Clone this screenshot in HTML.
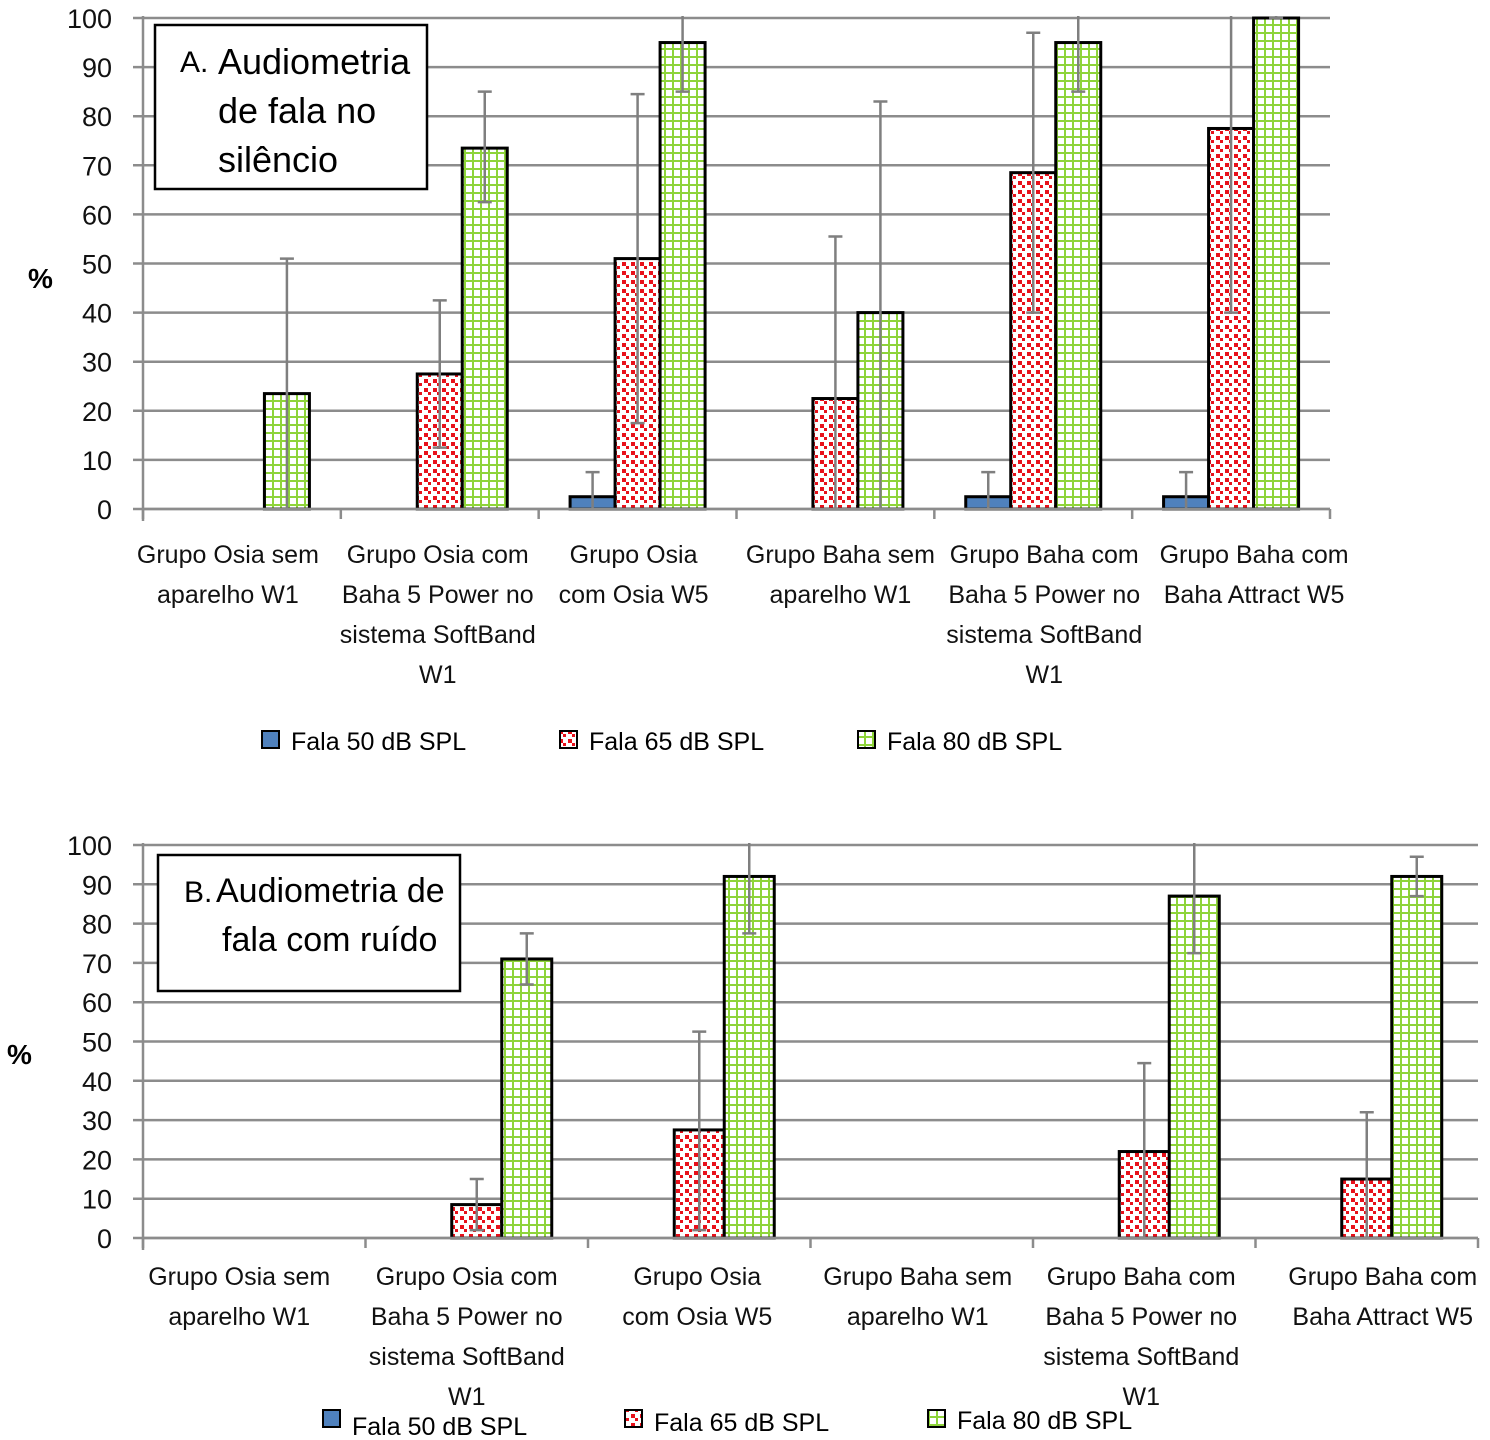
<!DOCTYPE html>
<html><head><meta charset="utf-8"><style>
html,body{margin:0;padding:0;background:#fff;width:1490px;height:1440px;overflow:hidden}
svg{display:block;font-family:"Liberation Sans",sans-serif}
</style></head><body>
<svg id="root" width="1490" height="1440" viewBox="0 0 1490 1440" xmlns="http://www.w3.org/2000/svg">
<defs>
<pattern id="pRed" width="9" height="9" patternUnits="userSpaceOnUse">
<rect width="9" height="9" fill="#fff"/><rect x="1" y="1" width="4" height="4" fill="#e8101a"/><rect x="5" y="5" width="3" height="3" fill="#e8101a"/>
</pattern>
<pattern id="pGreen" width="8" height="8" patternUnits="userSpaceOnUse">
<rect width="8" height="8" fill="#fff"/><rect x="0" y="0" width="8" height="2" fill="#8ed43a"/><rect x="0" y="0" width="2" height="8" fill="#8ed43a"/>
</pattern>
</defs>
<g id="chartA"></g>
<g id="chartB"></g>
</svg>
<script>
const categories=[["Grupo Osia sem","aparelho W1"],["Grupo Osia com","Baha 5 Power no","sistema SoftBand","W1"],["Grupo Osia","com Osia W5"],["Grupo Baha sem","aparelho W1"],["Grupo Baha com","Baha 5 Power no","sistema SoftBand","W1"],["Grupo Baha com","Baha Attract W5"]];
const seriesNames=["Fala 50 dB SPL","Fala 65 dB SPL","Fala 80 dB SPL"];
const yTicks=[0,10,20,30,40,50,60,70,80,90,100];
// Chart A values
const a50=[0,0,2.5,0,2.5,2.5];
const a65=[0,27.5,51,22.5,68.5,77.5];
const a80=[23.5,73.5,95,40,95,100];
const a50Hi=[null,null,7.5,null,7.5,7.5];
const a50Lo=[null,null,0,null,0,0];
const a65Hi=[null,42.5,84.5,55.5,97,105];
const a65Lo=[null,12.5,17.5,0,40,40];
const a80Hi=[51,85,105,83,105,105];
const a80Lo=[0,62.5,85,0,85,100];
// Chart B values
const b50=[0,0,0,0,0,0];
const b65=[0,8.5,27.5,0,22,15];
const b80=[0,71,92,0,87,92];
const b65Hi=[null,15,52.5,null,44.5,32];
const b65Lo=[null,2,2,null,0,0];
const b80Hi=[null,77.5,102,null,102,97];
const b80Lo=[null,64.5,77.5,null,72.5,87];

const NS="http://www.w3.org/2000/svg";
function mk(parent,tag,attrs,text){const e=document.createElementNS(NS,tag);for(const k in attrs)e.setAttribute(k,attrs[k]);if(text!=null)e.textContent=text;parent.appendChild(e);return e;}

function draw(g,cfg){
  const {x0,x1,y0,y100,bw,vals,his,los,labelDx,labelY,labelLH,legY,legX,box}=cfg;
  const yS=v=>y0-(y0-y100)*v/100;
  const gw=(x1-x0)/categories.length;
  const xS=(i,s)=>x0+gw*(i+0.5)+(s-1.5)*bw;
  yTicks.forEach(t=>{
    const l=mk(g,'line',{x1:x0-10,x2:x1,y1:yS(t),y2:yS(t),stroke:'#8c8c8c','stroke-width':2.5});
    
    
    const tx=mk(g,'text',{x:112,y:yS(t)+10,'text-anchor':'end','font-size':27,fill:'#111'},String(t));
    
    
  });
  const ax=mk(g,'line',{x1:x0,x2:x0,y1:y100-2,y2:y0+12,stroke:'#8c8c8c','stroke-width':2.5});
  
  
  for(let i=0;i<=categories.length;i++){
    const t=mk(g,'line',{x1:x0+gw*i,x2:x0+gw*i,y1:y0,y2:y0+10,stroke:'#8c8c8c','stroke-width':2.5});
    
    
  }
  const fills=['#4f81bd','url(#pRed)','url(#pGreen)'];
  for(let s=0;s<3;s++){
    vals[s].forEach((v,i)=>{
      if(v>0){
        const r=mk(g,'rect',{x:xS(i,s),y:yS(v),width:bw,height:y0-yS(v),fill:fills[s],stroke:'#000','stroke-width':3});
        
        
      }
      if(his[s]&&his[s][i]!=null){
        const cx=xS(i,s)+bw/2;
        const yh=Math.max(yS(his[s][i]),y100-2), yl=yS(los[s][i]);
        const e=mk(g,'path',{d:`M${cx},${yl}V${yh}`+(his[s][i]<=100?`M${cx-7},${yh}H${cx+7}`:'')+(los[s][i]>0?`M${cx-7},${yl}H${cx+7}`:''),stroke:'#7f7f7f','stroke-width':2.5,fill:'none'});
        
        
      }
    });
  }
  const bl=mk(g,'line',{x1:x0,x2:x1,y1:y0,y2:y0,stroke:'#8c8c8c','stroke-width':2.5});
  
  
  categories.forEach((c,i)=>{
    const t=mk(g,'text',{'text-anchor':'middle','font-size':25,fill:'#111'});
    
    
    c.forEach((ln,k)=>mk(t,'tspan',{x:x0+gw*(i+0.5)+labelDx[i],y:labelY+k*labelLH},ln));
  });
  const bg=mk(g,'g',{});
  
  
  mk(bg,'rect',{x:box.x,y:box.y,width:box.w,height:box.h,fill:'#fff',stroke:'#000','stroke-width':2.5});
  box.lines.forEach(l=>mk(bg,'text',{x:l[0],y:l[1],'font-size':l[3]||36,fill:'#000'},l[2]));
  const pm=mk(g,'text',{x:cfg.pctX,y:cfg.pctY,'font-size':28,'font-weight':'bold',fill:'#000'},'%');
  
  
  seriesNames.forEach((n,s)=>{
    const lg=mk(g,'g',{});
    
    
    mk(lg,'rect',{x:legX[s],y:legY-17,width:17,height:17,fill:fills[s],stroke:'#000','stroke-width':2});
    mk(lg,'text',{x:legX[s]+29,y:legY+2+(cfg.legTextDy?cfg.legTextDy[s]:0),'font-size':25,fill:'#000'},n);
  });
}
draw(document.getElementById('chartA'),{x0:143,x1:1330,y0:509,y100:18,bw:45,
  vals:[a50,a65,a80],his:[a50Hi,a65Hi,a80Hi],los:[a50Lo,a65Lo,a80Lo],
  labelDx:[-14,-2,-4,5,11,23],labelY:563,labelLH:40,legY:748,legX:[262,560,858],
  pctX:28,pctY:288,
  box:{x:155,y:25,w:272,h:164,lines:[[180,72,'A.',30],[218,74,'Audiometria'],[218,123,'de fala no'],[218,172,'silêncio']]}});
draw(document.getElementById('chartB'),{x0:143,x1:1478,y0:1238,y100:845,bw:50,
  vals:[b50,b65,b80],his:[null,b65Hi,b80Hi],los:[null,b65Lo,b80Lo],
  labelDx:[-15,-10,-2,-4,-3,16],labelY:1285,labelLH:40,legY:1427,legX:[323,625,928],legTextDy:[6,2,0],
  pctX:7,pctY:1064,
  box:{x:158,y:855,w:302,h:136,lines:[[184,902,'B.',30],[216,902,'Audiometria de',34],[222,951,'fala com ruído',34]]}});
</script>
</body></html>
